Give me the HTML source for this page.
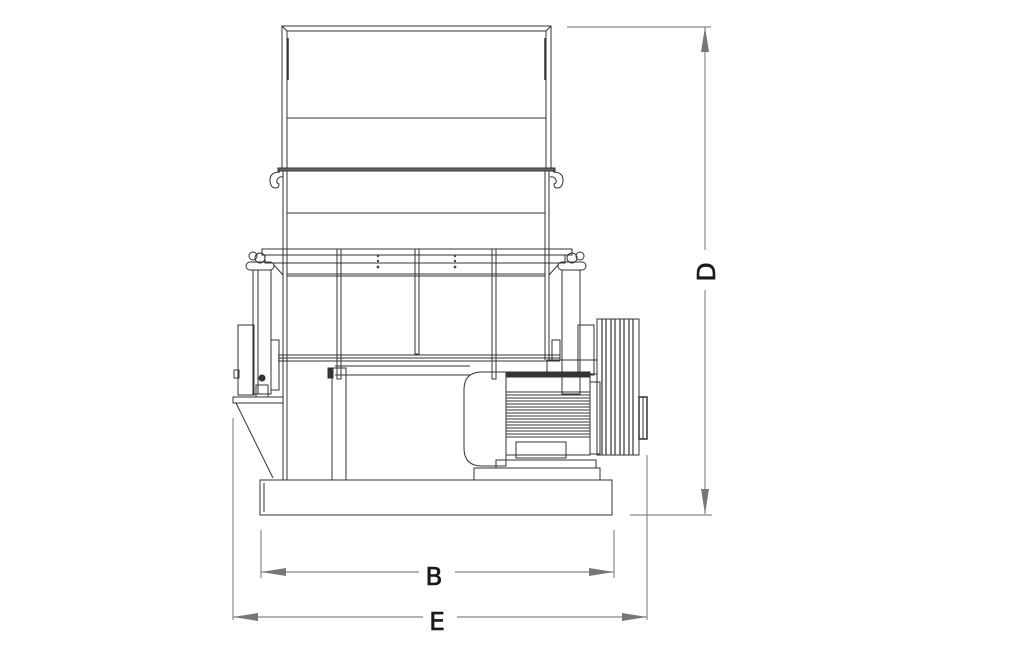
<!DOCTYPE html>
<html><head><meta charset="utf-8"><style>
html,body{margin:0;padding:0;background:#fff;}
svg{display:block;}
text{font-family:"DejaVu Sans","Liberation Sans",sans-serif;fill:#1a1a1a;stroke:#1a1a1a;stroke-width:0.6;}
</style></head><body>
<svg width="1024" height="651" viewBox="0 0 1024 651" xmlns="http://www.w3.org/2000/svg">
<g fill="none" stroke="#333" stroke-width="1">
<rect x="282" y="26" width="269" height="142"/>
<line x1="287" y1="31" x2="546" y2="31"/>
<line x1="287" y1="31" x2="287" y2="168"/>
<line x1="546" y1="31" x2="546" y2="168"/>
<line x1="282" y1="26" x2="287" y2="31"/><line x1="551" y1="26" x2="546" y2="31"/>
<line x1="288" y1="38" x2="288" y2="80" stroke-width="1.5"/>
<line x1="545" y1="38" x2="545" y2="80" stroke-width="1.5"/>
<line x1="287" y1="118" x2="546" y2="118"/>
<rect x="278" y="168" width="277" height="3" fill="#666"/>
<path d="M280 172 q-10 0 -10 8 q0 8 6 8 q3 0 3 -4 q-3 -1 -2 -4 q2 -4 6 -3"/>
<path d="M553 172 q10 0 10 8 q0 8 -6 8 q-3 0 -3 -4 q3 -1 2 -4 q-2 -4 -6 -3"/>
<line x1="283" y1="171" x2="283" y2="480"/><line x1="287" y1="171" x2="287" y2="480"/>
<line x1="549" y1="171" x2="549" y2="360"/><line x1="545" y1="171" x2="545" y2="360"/>
<line x1="287" y1="213" x2="545" y2="213"/>
<rect x="262" y="249" width="310" height="6"/>
<rect x="265" y="255" width="300" height="8"/>
<line x1="287" y1="274" x2="545" y2="274"/><line x1="287" y1="276" x2="545" y2="276"/>
<rect x="337" y="249" width="4" height="130"/>
<rect x="415" y="249" width="4" height="105"/>
<rect x="492" y="249" width="4" height="130"/>
<g fill="#444" stroke="none">
<circle cx="378" cy="256" r="1.2"/><circle cx="378" cy="261" r="1.2"/><circle cx="378" cy="267" r="1.4"/>
<circle cx="455" cy="256" r="1.2"/><circle cx="455" cy="261" r="1.2"/><circle cx="455" cy="267" r="1.4"/>
</g>
<line x1="278" y1="355" x2="560" y2="355"/><line x1="278" y1="358" x2="560" y2="358"/>
<line x1="278" y1="361" x2="560" y2="361"/><line x1="335" y1="366" x2="470" y2="366"/>
<line x1="335" y1="375" x2="470" y2="375"/>
<rect x="332" y="368" width="14" height="112"/>
<rect x="328" y="368" width="5" height="10" fill="#333"/>
<rect x="246" y="262" width="28" height="8" rx="4"/>
<circle cx="260" cy="258" r="5"/><circle cx="253" cy="256" r="4"/>
<rect x="253" y="270" width="18" height="124"/>
<line x1="258" y1="270" x2="258" y2="394"/>
<line x1="274" y1="265" x2="283" y2="275"/>
<rect x="238" y="325" width="16" height="70"/>
<rect x="271" y="340" width="8" height="50"/>
<rect x="234" y="370" width="5" height="8"/>
<circle cx="262" cy="378" r="3" fill="#333"/>
<rect x="256" y="385" width="12" height="12"/>
<rect x="233" y="397" width="50" height="6"/>
<line x1="236" y1="403" x2="273" y2="478"/>
<rect x="558" y="262" width="28" height="8" rx="4"/>
<circle cx="572" cy="258" r="5"/><circle cx="580" cy="256" r="4"/>
<rect x="562" y="270" width="18" height="124"/>
<line x1="558" y1="265" x2="549" y2="275"/>
<rect x="578" y="325" width="16" height="50"/>
<rect x="552" y="340" width="8" height="20"/>
<rect x="547" y="360" width="50" height="14"/>
<rect x="597" y="319" width="42" height="136"/>
<g stroke-width="1.2">
<line x1="602" y1="319" x2="602" y2="455"/><line x1="606" y1="319" x2="606" y2="455"/>
<line x1="611" y1="319" x2="611" y2="455"/><line x1="615" y1="319" x2="615" y2="455"/>
<line x1="620" y1="319" x2="620" y2="455"/><line x1="624" y1="319" x2="624" y2="455"/>
<line x1="629" y1="319" x2="629" y2="455"/><line x1="633" y1="319" x2="633" y2="455"/>
</g>
<rect x="639" y="397" width="8" height="42" stroke-width="1.5"/>
<line x1="643" y1="397" x2="643" y2="439"/>
<rect x="590" y="382" width="10" height="72"/>
<path d="M482 372 H506 V466 H482 Q464 466 464 448 V390 Q464 372 482 372 Z"/>
<rect x="506" y="372" width="84" height="83"/>
<rect x="506" y="372" width="84" height="5" fill="#333"/>
<g stroke-width="1.1">
<line x1="506" y1="392" x2="590" y2="392"/><line x1="506" y1="395" x2="590" y2="395"/>
<line x1="506" y1="398" x2="590" y2="398"/><line x1="506" y1="401" x2="590" y2="401"/>
<line x1="506" y1="404" x2="590" y2="404"/><line x1="506" y1="407" x2="590" y2="407"/>
<line x1="506" y1="410" x2="590" y2="410"/><line x1="506" y1="413" x2="590" y2="413"/>
<line x1="506" y1="416" x2="590" y2="416"/><line x1="506" y1="419" x2="590" y2="419"/>
<line x1="506" y1="422" x2="590" y2="422"/><line x1="506" y1="425" x2="590" y2="425"/>
<line x1="506" y1="428" x2="590" y2="428"/><line x1="506" y1="431" x2="590" y2="431"/>
<line x1="506" y1="434" x2="590" y2="434"/><line x1="506" y1="437" x2="590" y2="437"/>
</g>
<rect x="516" y="442" width="50" height="16"/>
<rect x="496" y="460" width="100" height="8"/>
<rect x="474" y="468" width="126" height="12"/>
<rect x="260" y="480" width="352" height="35"/>
<path d="M273 480 H260 V515 H273 M264 483 V512"/>
<line x1="346" y1="375" x2="346" y2="480"/>
</g>
<g stroke="#888" stroke-width="1.2" fill="none">
<line x1="567" y1="27" x2="711" y2="27"/>
<line x1="630" y1="515" x2="712" y2="515"/>
<line x1="705" y1="27" x2="705" y2="250"/><line x1="705" y1="290" x2="705" y2="514"/>
<line x1="261" y1="530" x2="261" y2="578"/><line x1="614" y1="530" x2="614" y2="578"/>
<line x1="261" y1="572" x2="419" y2="572"/><line x1="455" y1="572" x2="614" y2="572"/>
<line x1="233" y1="418" x2="233" y2="620"/><line x1="647" y1="455" x2="647" y2="620"/>
<line x1="233" y1="617" x2="423" y2="617"/><line x1="457" y1="617" x2="647" y2="617"/>
</g>
<g fill="#777">
<path d="M705 27 L701 52 L709 52 Z"/><path d="M705 514 L701 489 L709 489 Z"/>
<path d="M261 572 L286 568 L286 576 Z"/><path d="M614 572 L589 568 L589 576 Z"/>
<path d="M233 617 L258 613 L258 621 Z"/><path d="M647 617 L622 613 L622 621 Z"/>
</g>
<text x="434" y="585" font-size="25" text-anchor="middle">B</text>
<text x="437" y="630" font-size="25" text-anchor="middle">E</text>
<text x="0" y="0" font-size="25" text-anchor="middle" transform="translate(715 272) rotate(-90)">D</text>
</svg>
</body></html>
